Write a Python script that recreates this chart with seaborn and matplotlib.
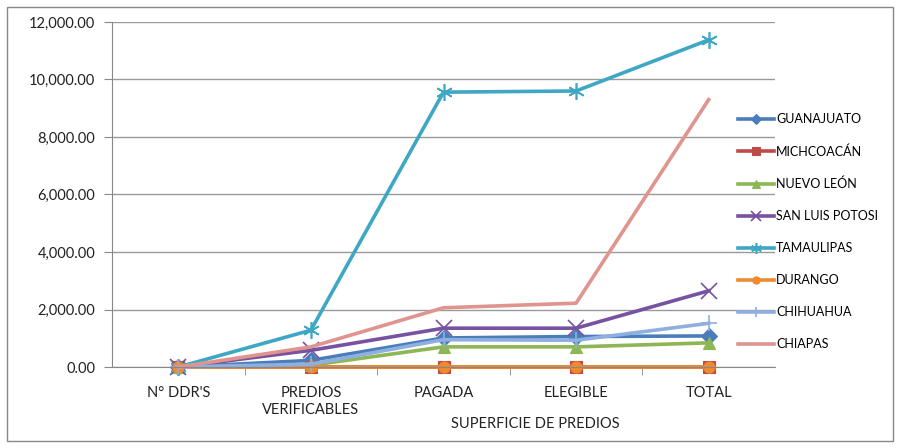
import numpy as np
import pandas as pd
import matplotlib
matplotlib.use("Agg")
import matplotlib.pyplot as plt
import seaborn as sns
from matplotlib.ticker import FuncFormatter, FixedLocator
from matplotlib.patches import Rectangle

# categorias del eje x
categorias = ["N° DDR'S", "PREDIOS\nVERIFICABLES", "PAGADA", "ELEGIBLE", "TOTAL"]

# valores por estado
guanajuato = [0, 230, 1010, 1060, 1080]
michoacan = [0, 0, 0, 0, 0]
nuevo_leon = [0, 60, 700, 700, 840]
san_luis = [0, 580, 1350, 1350, 2650]
tamaulipas = [0, 1280, 9560, 9600, 11380]
durango = [0, 0, 0, 0, 0]
chihuahua = [0, 100, 950, 930, 1520]
chiapas = [0, 700, 2060, 2220, 9300]

estados = ["GUANAJUATO", "MICHCOACÁN", "NUEVO LEÓN", "SAN LUIS POTOSI",
           "TAMAULIPAS", "DURANGO", "CHIHUAHUA", "CHIAPAS"]
valores = [guanajuato, michoacan, nuevo_leon, san_luis,
           tamaulipas, durango, chihuahua, chiapas]
colores = ["#4A7EBB", "#BE4B48", "#8DB654", "#7652A0",
           "#3EA8C4", "#F08A2E", "#8EAFDF", "#E0948F"]
marcadores = ["D", "s", "^", "x", (6, 2, 0), "o", "+", None]

filas = []
for est, vals in zip(estados, valores):
    for i, v in enumerate(vals):
        filas.append({"estado": est, "pos": i, "valor": v})
df = pd.DataFrame(filas)

plt.rcParams['font.family'] = ['Lato', 'DejaVu Sans']
fig = plt.figure(figsize=(9, 4.48), dpi=100)
ax = fig.add_axes([112/900, 1-367/448, 663/900, 345/448])

for est, col, mk in zip(estados, colores, marcadores):
    sub = df[df["estado"] == est]
    kw = dict(lw=2.6, color=col, label=est, legend=False, clip_on=False)
    if mk is None:
        sns.lineplot(data=sub, x="pos", y="valor", ax=ax, **kw)
    else:
        fina = mk in ("x", "+") or isinstance(mk, tuple)
        sns.lineplot(data=sub, x="pos", y="valor", ax=ax, marker=mk,
                     ms=12 if fina else 8, mew=1.2 if fina else 0.8,
                     mec=col, **kw)

ax.set_xlim(-0.5, 4.5)
ax.set_ylim(0, 12000)
ax.set_yticks(np.arange(0, 12001, 2000))
ax.yaxis.set_major_formatter(FuncFormatter(lambda v, p: f"{v:,.2f}"))
ax.set_xticks(range(len(categorias)))
ax.set_xticklabels(categorias, fontsize=10.5, color="#222222")
ax.xaxis.set_minor_locator(FixedLocator(np.arange(0.5, 4.0, 1.0)))
ax.tick_params(axis="x", which="major", length=0, pad=14)
ax.tick_params(axis="x", which="minor", length=6, color="#888888", direction="out")
ax.tick_params(axis="y", length=6, color="#888888", labelsize=10.5, labelcolor="#222222", pad=6)
ax.grid(axis="y", color="#9a9a9a", lw=1)
ax.set_axisbelow(True)
for s in ["top", "right"]:
    ax.spines[s].set_visible(False)
for s in ["left", "bottom"]:
    ax.spines[s].set_color("#888888")
ax.set_ylabel("")
ax.set_xlabel("SUPERFICIE DE PREDIOS", fontsize=10.5, color="#222222")
ax.xaxis.set_label_coords(0.638, -0.145)

handles, labels = ax.get_legend_handles_labels()
leg = fig.legend(handles, labels, loc="upper left",
                 bbox_to_anchor=(733/900, 1-108/448), frameon=False,
                 fontsize=9, labelspacing=1.6, handlelength=2.9,
                 handletextpad=0.15, borderaxespad=0, markerscale=0.65)

fig.patches.append(Rectangle((7/900, 7/448), 886/900, 434/448, transform=fig.transFigure,
                             fill=False, edgecolor="#888888", lw=1))

fig.savefig("out.png", dpi=100)
